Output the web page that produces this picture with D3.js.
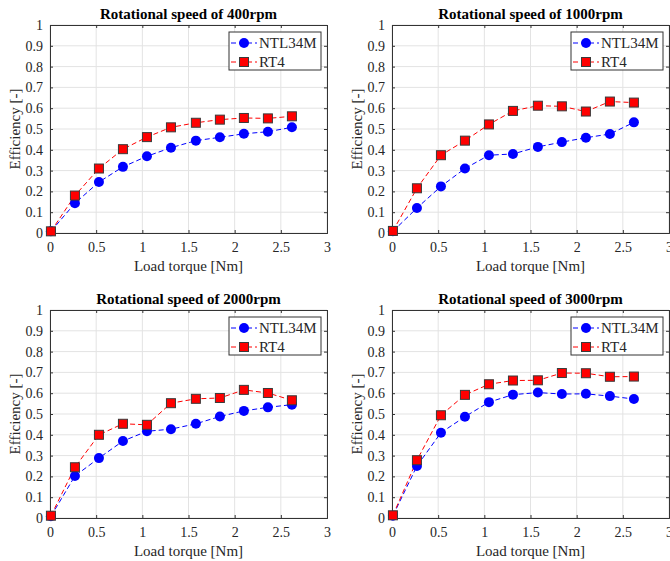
<!DOCTYPE html>
<html>
<head>
<meta charset="utf-8">
<script src="https://cdn.jsdelivr.net/npm/d3@7"></script>
<style>
  body { margin: 0; background: #fff; }
</style>
</head>
<body>
<div id="chart"></div>
<script>
// load torque [Nm], same for all four tests
var torque = [0.01, 0.27, 0.53, 0.79, 1.05, 1.31, 1.58, 1.84, 2.10, 2.36, 2.62]

var speeds = ['400', '1000', '2000', '3000']

var ntl400 = [0.008, 0.143, 0.245, 0.318, 0.369, 0.410, 0.444, 0.460, 0.477, 0.487, 0.508]
var rt400  = [0.008, 0.180, 0.310, 0.403, 0.461, 0.508, 0.530, 0.545, 0.553, 0.551, 0.561]

var ntl1000 = [0.008, 0.120, 0.224, 0.310, 0.374, 0.380, 0.414, 0.437, 0.458, 0.476, 0.532]
var rt1000  = [0.010, 0.215, 0.374, 0.444, 0.522, 0.587, 0.612, 0.609, 0.584, 0.632, 0.627]

var ntl2000 = [0.008, 0.202, 0.288, 0.370, 0.417, 0.427, 0.453, 0.488, 0.515, 0.532, 0.545]
var rt2000  = [0.011, 0.244, 0.400, 0.453, 0.448, 0.552, 0.573, 0.577, 0.616, 0.601, 0.566]

var ntl3000 = [0.011, 0.250, 0.410, 0.487, 0.557, 0.593, 0.603, 0.596, 0.597, 0.586, 0.572]
var rt3000  = [0.013, 0.278, 0.494, 0.592, 0.643, 0.661, 0.662, 0.697, 0.696, 0.679, 0.680]

var seriesNames = ['NTL34M', 'RT4']
var xTicks = [0, 0.5, 1, 1.5, 2, 2.5, 3]
var yTicks = [0, 0.1, 0.2, 0.3, 0.4, 0.5, 0.6, 0.7, 0.8, 0.9, 1]

var efficiency = {
  '400': [ntl400, rt400],
  '1000': [ntl1000, rt1000],
  '2000': [ntl2000, rt2000],
  '3000': [ntl3000, rt3000]
}

var W = 670, H = 561
var pw = 277, ph = 208   // plot box size
var axisCol = '#333'
var gridCol = '#e3e3e3'
var colours = ['#0000ff', '#ff0000']
var serif = 'Liberation Serif, Times New Roman, Times, Tinos, Nimbus Roman, FreeSerif, Noto Serif, DejaVu Serif, serif'

var svg = d3.select('#chart').append('svg')
  .attr('width', W)
  .attr('height', H)
  .style('font-family', serif)

speeds.forEach(function (sp, i) {
  var col = i % 2, row = Math.floor(i / 2)
  var ox = 50 + col * 342
  var oy = 25 + row * 285
  makePanel(ox, oy, sp, efficiency[sp])
})

function makePanel(ox, oy, speed, vals) {
  var g = svg.append('g').attr('transform', 'translate(' + ox + ',' + oy + ')')

  var x = d3.scaleLinear().domain([0, 3]).range([0, pw])
  var y = d3.scaleLinear().domain([0, 1]).range([ph, 0])

  // grid
  g.selectAll('.gx').data(xTicks).enter().append('line')
    .attr('x1', d => x(d)).attr('x2', d => x(d))
    .attr('y1', 0).attr('y2', ph)
    .attr('stroke', gridCol)
  g.selectAll('.gy').data(yTicks).enter().append('line')
    .attr('y1', d => y(d)).attr('y2', d => y(d))
    .attr('x1', 0).attr('x2', pw)
    .attr('stroke', gridCol)

  // axes, ticks pointing in, mirrored on top/right
  var fmt = d => d3.format('~g')(d)
  g.append('g').attr('transform', 'translate(0,' + ph + ')')
    .call(d3.axisBottom(x).tickValues(xTicks).tickFormat(fmt).tickSize(-3).tickPadding(9))
  g.append('g')
    .call(d3.axisLeft(y).tickValues(yTicks).tickFormat(fmt).tickSize(-3).tickPadding(7))
  g.append('g')
    .call(d3.axisTop(x).tickValues(xTicks).tickFormat('').tickSize(-3))
  g.append('g').attr('transform', 'translate(' + pw + ',0)')
    .call(d3.axisRight(y).tickValues(yTicks).tickFormat('').tickSize(-3))

  g.selectAll('g').attr('font-family', null).attr('font-size', null)
  g.selectAll('.domain').attr('stroke', axisCol)
  g.selectAll('.tick line').attr('stroke', axisCol)
  g.selectAll('.tick text')
    .attr('fill', '#262626')
    .style('font-family', serif)
    .style('font-size', '14px')

  // series
  var line = d3.line()
    .x((d, j) => x(torque[j]))
    .y(d => y(d))

  vals.forEach(function (s, k) {
    g.append('path')
      .datum(s)
      .attr('d', line)
      .attr('fill', 'none')
      .attr('stroke', colours[k])
      .attr('stroke-width', 1)
      .attr('stroke-dasharray', '5,3')
  })

  // markers: circles for NTL34M, squares for RT4
  g.selectAll('.m0').data(vals[0]).enter().append('circle')
    .attr('cx', (d, j) => x(torque[j]))
    .attr('cy', d => y(d))
    .attr('r', 5)
    .attr('fill', colours[0])
  g.selectAll('.m1').data(vals[1]).enter().append('rect')
    .attr('x', (d, j) => x(torque[j]) - 4.5)
    .attr('y', d => y(d) - 4.5)
    .attr('width', 9).attr('height', 9)
    .attr('fill', colours[1])
    .attr('stroke', '#3a3a3a')
    .attr('stroke-width', 1)

  // title & labels
  g.append('text')
    .attr('x', pw / 2).attr('y', -6)
    .attr('text-anchor', 'middle')
    .style('font-family', serif)
    .style('font-size', '15px')
    .style('font-weight', 'bold')
    .attr('fill', '#000')
    .text('Rotational speed of ' + speed + 'rpm')

  g.append('text')
    .attr('x', pw / 2).attr('y', ph + 38)
    .attr('text-anchor', 'middle')
    .style('font-family', serif)
    .style('font-size', '15px')
    .attr('fill', '#262626')
    .text('Load torque [Nm]')

  g.append('text')
    .attr('transform', 'translate(-30,' + (ph / 2) + ') rotate(-90)')
    .attr('text-anchor', 'middle')
    .style('font-family', serif)
    .style('font-size', '15px')
    .attr('fill', '#262626')
    .text('Efficiency [-]')

  // legend
  var lg = g.append('g').attr('transform', 'translate(' + (pw - 98) + ',7)')
  lg.append('rect')
    .attr('width', 92).attr('height', 38)
    .attr('fill', '#fff')
    .attr('stroke', axisCol)
  seriesNames.forEach(function (name, k) {
    var ly = 11 + k * 19
    lg.append('line')
      .attr('x1', 2).attr('x2', 28)
      .attr('y1', ly).attr('y2', ly)
      .attr('stroke', colours[k])
      .attr('stroke-dasharray', '5,3')
    if (k == 0) {
      lg.append('circle').attr('cx', 15).attr('cy', ly).attr('r', 5).attr('fill', colours[0])
    } else {
      lg.append('rect').attr('x', 10.5).attr('y', ly - 4.5)
        .attr('width', 9).attr('height', 9)
        .attr('fill', colours[1]).attr('stroke', '#3a3a3a')
    }
    lg.append('text')
      .attr('x', 30).attr('y', ly + 5)
      .style('font-family', serif)
      .style('font-size', '15px')
      .attr('fill', '#262626')
      .text(name)
  })
}
</script>
</body>
</html>
